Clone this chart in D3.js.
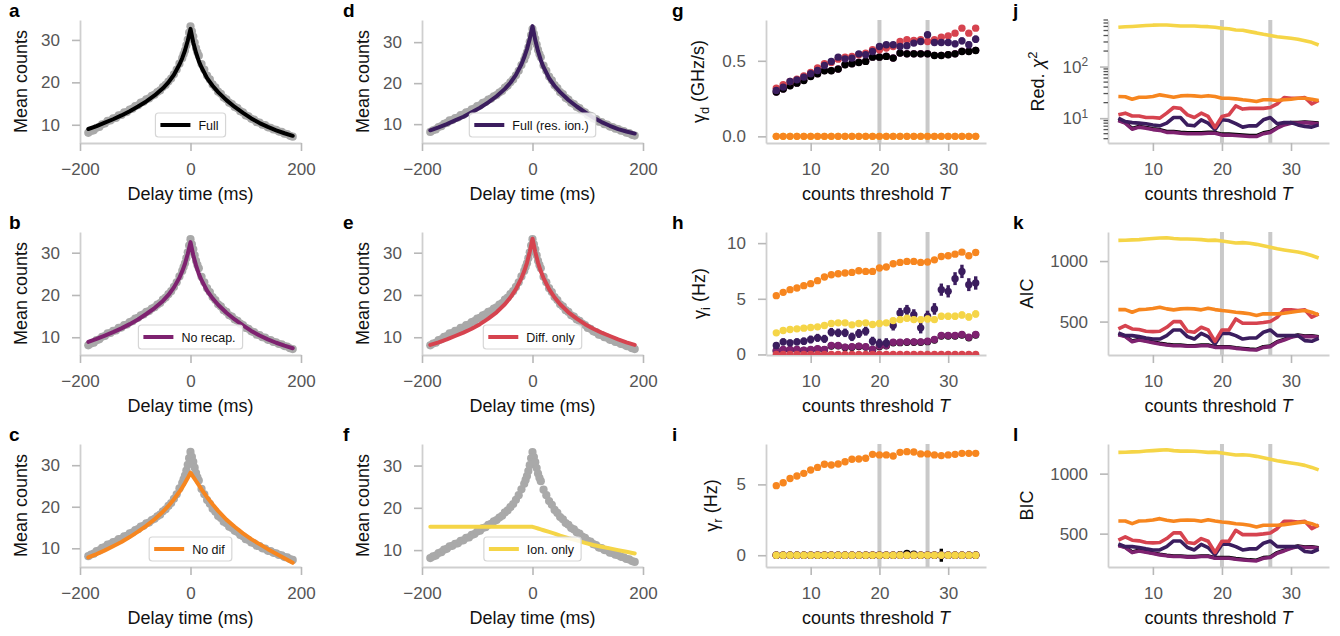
<!DOCTYPE html>
<html>
<head>
<meta charset="utf-8">
<script src="https://cdn.jsdelivr.net/npm/d3@7"></script>
<style>
  body { margin: 0; background: #fff; }
  svg { font-family: "Liberation Sans", Arial, Helvetica, sans-serif; }
</style>
</head>
<body>
<svg id="fig" width="1340" height="636"></svg>
<script>
// ---- data: correlation curves (panels a-f) ----
const delayMs = [-185,-180,-175,-170,-165,-160,-155,-150,-145,-140,-135,-130,-125,-120,-115,-110,-105,-100,-95,-90,-85,-80,-75,-70,-65,-60,-55,-50,-45,-40,-35,-30,-25,-20,-15,
  -12.5,-10,-7.5,-5,-2.5,0,2.5,5,7.5,10,12.5,15,
  20,25,30,35,40,45,50,55,60,65,70,75,80,85,90,95,100,105,110,115,120,125,130,135,140,145,150,155,160,165,170,175,180,185];
const meanCounts = [8.1,8.5,8.7,9.3,9.5,10.1,10.3,10.9,11.0,11.5,11.6,12.2,12.3,12.9,13.0,13.6,13.8,14.4,14.6,15.2,15.4,16.0,16.2,16.8,17.1,17.7,18.1,18.9,19.4,20.2,20.9,21.9,23.0,24.4,25.7,
  26.6,27.5,28.7,30.1,31.7,33.2,32.0,30.8,29.4,28.1,27.1,26.3,
  24.3,23.0,21.6,20.7,19.5,18.8,17.8,17.3,16.4,16.0,15.2,14.9,14.2,13.9,13.2,12.9,12.2,12.0,11.4,11.2,10.6,10.5,10.0,9.9,9.4,9.3,8.9,8.8,8.4,8.3,7.9,7.8,7.4,7.2];

const fitX = [-185,-170,-155,-140,-125,-110,-95,-80,-65,-50,-40,-30,-20,-15,-10,-5,0,5,10,15,20,30,40,50,65,80,95,110,125,140,155,170,185];
const fitFull = [9.0,9.7,10.5,11.3,12.2,13.2,14.3,15.5,16.9,18.6,20.0,21.8,24.2,25.7,27.5,29.8,32.6,29.4,27.0,25.0,23.5,21.0,19.2,17.7,15.8,14.2,12.8,11.5,10.4,9.5,8.7,8.0,7.4];
const fitNoRecap = [8.9,9.6,10.4,11.2,12.1,13.1,14.2,15.5,16.9,18.6,20.0,21.8,24.1,25.6,27.4,29.7,32.5,29.4,27.0,25.0,23.5,21.0,19.2,17.7,15.8,14.2,12.8,11.5,10.4,9.5,8.7,8.0,7.4];
const fitNoDif = [7.8,8.6,9.5,10.5,11.5,12.7,14.0,15.4,17.0,18.8,20.2,21.8,23.6,24.6,25.7,26.9,28.2,27.2,26.2,25.2,24.2,22.3,20.6,19.0,16.9,15.2,13.6,12.2,11.0,9.8,8.7,7.6,6.5];
const fitResIon = [8.5,9.2,10.0,10.9,11.8,12.9,14.0,15.3,16.8,18.6,20.1,22.0,24.6,26.3,28.3,30.8,33.9,30.5,27.8,25.6,23.9,21.2,19.3,17.8,15.9,14.3,12.9,11.6,10.5,9.6,8.8,8.2,7.7];
const fitDiffOnly = [8.2,8.8,9.5,10.3,11.1,12.0,13.1,14.4,15.9,17.8,19.4,21.4,24.0,25.6,27.6,30.2,33.3,30.2,27.6,25.6,24.0,21.4,19.4,17.8,15.9,14.4,13.1,12.0,11.1,10.3,9.5,8.8,8.2];
const fitIonOnly = [15.5,15.5,15.5,15.5,15.5,15.5,15.5,15.5,15.5,15.5,15.5,15.5,15.5,15.5,15.5,15.5,15.5,15.3,15.1,14.9,14.7,14.3,13.9,13.4,12.8,12.3,11.7,11.2,10.8,10.4,10.0,9.6,9.2];

// ---- data: threshold scans (panels g-l) ----
const thresholdT = [5,6,7,8,9,10,11,12,13,14,15,16,17,18,19,20,21,22,23,24,25,26,27,28,29,30,31,32,33,34];
const markedT = [20, 27];
const zeros = [0,0,0,0,0,0,0,0,0,0,0,0,0,0,0,0,0,0,0,0,0,0,0,0,0,0,0,0,0,0];

const gdFull = [0.293,0.313,0.335,0.352,0.370,0.396,0.414,0.434,0.434,0.445,0.474,0.480,0.489,0.496,0.524,0.524,0.529,0.518,0.551,0.546,0.546,0.546,0.546,0.535,0.535,0.540,0.546,0.562,0.562,0.568];
const gdFullErr = [0.005,0.005,0.005,0.005,0.005,0.006,0.006,0.006,0.006,0.007,0.007,0.007,0.008,0.008,0.008,0.009,0.009,0.009,0.010,0.010,0.010,0.011,0.011,0.012,0.012,0.013,0.014,0.015,0.015,0.016];
const gdResIon = [0.304,0.326,0.363,0.374,0.392,0.414,0.436,0.469,0.496,0.524,0.513,0.518,0.546,0.540,0.562,0.595,0.606,0.606,0.595,0.600,0.617,0.628,0.672,0.621,0.621,0.621,0.612,0.632,0.606,0.643];
const gdResIonErr = [0.008,0.008,0.009,0.009,0.010,0.010,0.011,0.011,0.012,0.012,0.013,0.013,0.014,0.014,0.015,0.016,0.016,0.017,0.017,0.018,0.018,0.019,0.020,0.020,0.021,0.021,0.022,0.023,0.023,0.024];
const gdNoRecap = [0.294,0.314,0.336,0.353,0.371,0.397,0.415,0.435,0.435,0.446,0.475,0.481,0.490,0.497,0.525,0.525,0.530,0.519,0.552,0.547,0.547,0.547,0.547,0.536,0.536,0.541,0.547,0.563,0.563,0.569];
const gdDiffOnly = [0.319,0.341,0.363,0.379,0.400,0.423,0.452,0.480,0.489,0.511,0.524,0.529,0.540,0.551,0.573,0.573,0.584,0.595,0.628,0.639,0.634,0.639,0.628,0.639,0.656,0.665,0.683,0.716,0.683,0.716];

const giFull = [0.32,0.40,0.41,0.42,0.36,0.41,0.47,0.42,0.76,0.77,0.62,0.65,0.71,0.66,0.42,0.71,0.77,1.05,1.06,1.10,1.10,1.10,1.15,1.30,1.66,1.66,1.66,1.75,1.50,1.75];
const giNoRecap = [0.36,0.45,0.45,0.45,0.39,0.45,0.51,0.45,0.81,0.81,0.66,0.69,0.75,0.69,0.45,0.75,0.81,1.10,1.10,1.13,1.13,1.13,1.19,1.34,1.70,1.70,1.70,1.79,1.55,1.79];
const giResIon = [0.81,1.13,1.04,1.13,1.19,1.34,1.49,1.40,2.00,1.94,1.94,1.58,1.88,2.09,1.19,0.99,1.04,2.60,3.73,3.97,3.58,2.39,3.43,4.09,5.82,5.67,6.81,7.46,6.27,6.42];
const giResIonErr = [0.30,0.32,0.30,0.32,0.33,0.35,0.36,0.36,0.38,0.38,0.38,0.38,0.40,0.40,0.40,0.42,0.42,0.45,0.45,0.48,0.48,0.50,0.50,0.52,0.55,0.55,0.58,0.60,0.58,0.60];
const giNoDif = [5.28,5.58,5.82,5.97,6.18,6.36,6.63,6.96,7.16,7.25,7.31,7.37,7.52,7.46,7.46,7.76,7.85,8.15,8.27,8.36,8.36,8.27,8.30,8.50,8.80,8.87,9.01,9.19,8.87,9.16];
const giIonOnly = [1.94,2.15,2.24,2.30,2.36,2.42,2.48,2.60,2.78,2.84,2.84,2.66,2.78,2.84,2.69,2.78,2.84,3.04,3.13,3.25,3.13,3.13,3.19,3.13,3.43,3.43,3.43,3.55,3.37,3.64];
const giIonOnlyErr = [0.20,0.20,0.21,0.21,0.22,0.22,0.22,0.23,0.23,0.24,0.24,0.24,0.25,0.25,0.25,0.26,0.26,0.27,0.27,0.28,0.28,0.28,0.29,0.29,0.30,0.30,0.31,0.31,0.32,0.32];

const grFull = [0,0,0,0,0,0,0,0,0,0,0,0,0,0,0,0,0,0,0.03,0.12,0.08,0,0,0,0,0,0,0,0,0];
const grFullErr = [0.02,0.02,0.02,0.02,0.02,0.02,0.02,0.02,0.02,0.02,0.02,0.02,0.02,0.02,0.02,0.02,0.02,0.02,0.04,0.10,0.07,0.02,0.02,0.03,0.46,0.03,0.03,0.03,0.03,0.26];
const grNoDif = [4.91,5.12,5.42,5.59,5.78,6.01,6.20,6.42,6.37,6.44,6.60,6.77,6.79,6.84,7.12,7.08,7.08,7.00,7.26,7.31,7.29,7.15,7.15,7.08,7.03,7.08,7.12,7.19,7.19,7.19];

const chiFull = [9.2,8.2,6.3,6.9,6.6,6.2,6.0,5.5,5.5,5.3,5.2,5.2,5.2,5.3,5.3,4.9,4.9,4.8,4.7,4.6,4.6,5.2,5.5,6.6,7.6,8.2,8.2,8.4,8.2,8.0];
const chiResIon = [10.0,8.6,8.2,8.0,7.8,7.4,7.1,8.0,10.3,10.3,7.4,7.1,9.3,8.0,6.0,9.3,9.0,7.8,6.7,7.1,7.1,9.3,10.3,7.8,8.2,8.2,7.4,6.9,6.7,7.4];
const chiNoRecap = [9.0,8.0,6.1,6.7,6.4,6.0,5.8,5.3,5.3,5.1,5.0,5.0,5.0,5.1,5.1,4.7,4.7,4.6,4.5,4.4,4.4,5.0,5.3,6.4,7.4,8.0,8.0,8.2,8.0,7.8];
const chiDiffOnly = [11.6,12.5,11.0,11.0,10.3,10.3,10.0,12.5,16.1,15.5,11.6,10.3,12.5,10.8,6.6,10.8,11.6,17.3,15.0,15.5,15.5,15.5,16.1,18.9,25.1,24.4,24.4,25.1,18.9,22.0];
const chiNoDif = [26.3,26.0,23.3,25.5,25.5,26.3,28.3,27.0,25.5,27.0,27.6,27.0,26.3,27.3,26.3,24.4,24.4,23.7,22.7,22.0,21.0,22.7,22.7,22.0,22.7,23.3,24.4,24.4,23.3,22.0];
const chiIonOnly = [577,590,600,612,625,635,640,640,625,612,612,612,600,594,580,552,540,513,505,476,450,422,400,380,365,353,340,318,295,262];

const aicFull = [396,381,339,353,342,331,320,312,306,306,301,301,306,306,292,292,292,284,278,273,270,292,298,334,353,375,389,381,383,375];
const aicResIon = [406,384,384,376,365,356,356,384,431,431,376,356,403,376,315,403,403,384,356,365,365,412,431,384,384,384,384,343,337,362];
const aicNoRecap = [392,376,334,348,337,326,315,307,301,301,296,296,301,301,287,287,287,279,273,268,265,287,293,329,348,370,384,376,378,370];
const aicDiffOnly = [439,467,439,434,420,417,420,453,500,500,420,412,453,431,337,431,431,522,486,486,486,492,500,536,597,597,591,597,536,564];
const aicNoDif = [599,599,577,599,602,608,619,605,597,605,608,605,597,610,599,591,586,577,572,564,550,564,564,564,569,577,586,591,577,555];
const aicIonOnly = [1171,1172,1175,1177,1182,1186,1190,1193,1186,1182,1182,1180,1177,1171,1173,1166,1158,1149,1152,1147,1138,1126,1114,1102,1092,1083,1074,1063,1046,1025];

const bicFull = [404,389,347,361,350,339,328,320,314,314,309,309,314,314,300,300,300,292,286,281,278,300,306,342,361,383,397,389,391,383];
const bicResIon = [414,392,392,384,373,364,364,392,439,439,384,364,411,384,323,411,411,392,364,373,373,420,439,392,392,392,392,351,345,370];
const bicNoRecap = [400,384,342,356,345,334,323,315,309,309,304,304,309,309,295,295,295,287,281,276,273,295,301,337,356,378,392,384,386,378];
const bicDiffOnly = [445,473,445,440,426,423,426,459,506,506,426,418,459,437,343,437,437,528,492,492,492,498,506,542,603,603,597,603,542,570];
const bicNoDif = [605,605,583,605,608,614,625,611,603,611,614,611,603,616,605,597,592,583,578,570,556,570,570,570,575,583,592,597,583,561];
const bicIonOnly = [1177,1178,1181,1183,1188,1192,1196,1199,1192,1188,1188,1186,1183,1177,1179,1172,1164,1155,1158,1153,1144,1132,1120,1108,1098,1089,1080,1069,1052,1031];

const modelNames = ["Full", "Full (res. ion.)", "No recap.", "Diff. only", "No dif", "Ion. only"];
const modelColors = ["#000000", "#3b1d5e", "#7e2270", "#d6434f", "#f7861f", "#f5d547"];
const dataGray = "#a9a9a9";

// layout
const cols = [[80, 301], [422, 643], [766, 986], [1108, 1329]];
const rows = [[20, 143], [232, 355], [444, 567]];
const panelLabelX = [9, 343, 672, 1013];

const svg = d3.select("#fig");

// draw the frame (spines, ticks, labels) for one panel and return scales
function makePanel(p) {
    const [x0, x1] = cols[p.col];
    const [y0, y1] = rows[p.row];
    const x = d3.scaleLinear().domain(p.xDom).range([x0, x1]);
    const y = (p.log ? d3.scaleLog() : d3.scaleLinear()).domain(p.yDom).range([y1, y0]);
    const g = svg.append("g");

    // clip to axes area like matplotlib
    const clipId = "clip-" + p.label;
    svg.append("clipPath").attr("id", clipId)
        .append("rect").attr("x", x0).attr("y", y0).attr("width", x1 - x0).attr("height", y1 - y0);

    // x axis
    const xa = g.append("g")
        .attr("transform", `translate(0, ${y1})`)
        .call(d3.axisBottom(x).tickValues(p.xTicks).tickFormat(d3.format("d"))
            .tickSize(8).tickSizeOuter(0).tickPadding(12));
    styleAxis(xa);

    // y axis
    const ya = g.append("g")
        .attr("transform", `translate(${x0}, 0)`)
        .call(d3.axisLeft(y).tickValues(p.yTicks).tickFormat(p.log ? () => "" : d3.format(p.yFmt))
            .tickSize(8).tickSizeOuter(0).tickPadding(12));
    styleAxis(ya);

    if (p.log) {
        // 10^n labels
        ya.selectAll(".tick text").each(function(d) {
            const t = d3.select(this);
            t.text("10");
            t.append("tspan").attr("dy", "-0.55em").attr("font-size", "0.7em").text(Math.round(Math.log10(d)));
        });
        // minor ticks
        ya.selectAll(".minor").data(p.minorTicks).join("line")
            .attr("class", "minor")
            .attr("x1", -4.5).attr("x2", 0)
            .attr("y1", d => y(d)).attr("y2", d => y(d))
            .attr("stroke", "#555").attr("stroke-width", 1.3);
    }

    // x label
    const xl = g.append("text")
        .attr("x", (x0 + x1) / 2).attr("y", y1 + 57)
        .attr("text-anchor", "middle").attr("font-size", 18).attr("fill", "#111");
    if (p.col < 2) {
        xl.text("Delay time (ms)");
    } else {
        xl.text("counts threshold ");
        xl.append("tspan").attr("font-style", "italic").text("T");
    }

    // y label
    const yl = g.append("text")
        .attr("transform", `translate(${p.yLabelX}, ${(y0 + y1) / 2}) rotate(-90)`)
        .attr("text-anchor", "middle").attr("font-size", 18).attr("fill", "#111");
    p.yLabel.forEach(seg => {
        const ts = yl.append("tspan").text(seg.t);
        if (seg.sub) ts.attr("dy", "0.3em").attr("font-size", "0.72em");
        if (seg.sup) ts.attr("dy", "-0.55em").attr("font-size", "0.72em");
        if (seg.back) ts.attr("dy", seg.back);
        if (seg.it) ts.attr("font-style", "italic");
    });

    // panel letter
    svg.append("text")
        .attr("x", panelLabelX[p.col]).attr("y", y0 - 3)
        .attr("font-size", 19).attr("font-weight", "bold").attr("fill", "#000")
        .text(p.label);

    const plot = svg.append("g").attr("clip-path", `url(#${clipId})`);
    return { x, y, plot, g, x0, x1, y0, y1 };
}

function styleAxis(sel) {
    sel.attr("font-size", 17).attr("font-family", null);
    sel.select(".domain").attr("stroke", "#cfcfcf").attr("stroke-width", 1.8);
    sel.selectAll(".tick line").attr("stroke", "#b8b8b8").attr("stroke-width", 1.6);
    sel.selectAll(".tick text").attr("fill", "#555");
}

// ---- panels a-f ----
const fitPanels = [
    { label: "a", col: 0, row: 0, fit: fitFull, model: 0, yDom: [5.7, 34.7] },
    { label: "b", col: 0, row: 1, fit: fitNoRecap, model: 2, yDom: [5.8, 34.9] },
    { label: "c", col: 0, row: 2, fit: fitNoDif, model: 4, yDom: [5.5, 35.1] },
    { label: "d", col: 1, row: 0, fit: fitResIon, model: 1, yDom: [5.4, 35.4] },
    { label: "e", col: 1, row: 1, fit: fitDiffOnly, model: 3, yDom: [5.8, 34.9] },
    { label: "f", col: 1, row: 2, fit: fitIonOnly, model: 5, yDom: [6.0, 35.1] }
];

fitPanels.forEach(fp => {
    const p = Object.assign({}, fp, {
        xDom: [-200, 200], xTicks: [-200, 0, 200], yTicks: [10, 20, 30], yFmt: "d",
        yLabelX: cols[fp.col][0] - 53, yLabel: [{ t: "Mean counts" }]
    });
    const { x, y, g, y1 } = makePanel(p);
    const plot = g; // matplotlib does not clip these visibly

    plot.append("g").selectAll("circle")
        .data(delayMs.map((d, i) => [d, meanCounts[i]]))
        .join("circle")
        .attr("cx", d => x(d[0])).attr("cy", d => y(d[1]))
        .attr("r", 4.1).attr("fill", dataGray);

    plot.append("path")
        .datum(fitX.map((d, i) => [d, fp.fit[i]]))
        .attr("d", d3.line().x(d => x(d[0])).y(d => y(d[1])))
        .attr("fill", "none").attr("stroke", modelColors[fp.model])
        .attr("stroke-width", 4).attr("stroke-linejoin", "round").attr("stroke-linecap", "round");

    // legend, lower centre
    const lg = plot.append("g");
    const rect = lg.append("rect");
    const txt = lg.append("text").attr("font-size", 12.5).attr("fill", "#111").text(modelNames[fp.model]);
    const tw = txt.node().getComputedTextLength();
    const w = 5 + 30 + 8 + tw + 7, h = 24;
    const left = x(0) - w / 2, top = y1 - 6 - h;
    rect.attr("x", left).attr("y", top).attr("width", w).attr("height", h)
        .attr("rx", 3).attr("fill", "rgba(255,255,255,0.85)").attr("stroke", "#d6d6d6").attr("stroke-width", 1.2);
    lg.append("line")
        .attr("x1", left + 5).attr("x2", left + 35).attr("y1", top + h / 2).attr("y2", top + h / 2)
        .attr("stroke", modelColors[fp.model]).attr("stroke-width", 4);
    txt.attr("x", left + 43).attr("y", top + h / 2 + 4.5);
});

// ---- panels g-i (rates, scatter with error bars) ----
const ratePanels = [
    { label: "g", col: 2, row: 0, yDom: [-0.044, 0.77], yTicks: [0, 0.5], yFmt: ".1f", yLabelX: 705,
      yLabel: [{ t: "γ" }, { t: "d", sub: true }, { t: " (GHz/s)", back: "-0.3em" }],
      series: [[2, gdNoRecap, null], [0, gdFull, gdFullErr], [3, gdDiffOnly, null], [1, gdResIon, gdResIonErr], [5, zeros, null], [4, zeros, null]] },
    { label: "h", col: 2, row: 1, yDom: [-0.05, 11.0], yTicks: [0, 5, 10], yFmt: "d", yLabelX: 706,
      yLabel: [{ t: "γ" }, { t: "i", sub: true }, { t: " (Hz)", back: "-0.3em" }],
      series: [[0, giFull, null], [2, giNoRecap, null], [3, zeros, null], [1, giResIon, giResIonErr], [5, giIonOnly, giIonOnlyErr], [4, giNoDif, null]] },
    { label: "i", col: 2, row: 2, yDom: [-0.83, 7.85], yTicks: [0, 5], yFmt: "d", yLabelX: 718,
      yLabel: [{ t: "γ" }, { t: "r", sub: true }, { t: " (Hz)", back: "-0.3em" }],
      series: [[2, zeros, null], [0, grFull, grFullErr], [3, zeros, null], [1, zeros, null], [5, zeros, null], [4, grNoDif, null]] }
];

ratePanels.forEach(rp => {
    const p = Object.assign({}, rp, { xDom: [3.5, 35.5], xTicks: [10, 20, 30] });
    const { x, y, plot, y0, y1 } = makePanel(p);

    plot.selectAll(".vline").data(markedT).join("line")
        .attr("x1", d => x(d)).attr("x2", d => x(d)).attr("y1", y0).attr("y2", y1)
        .attr("stroke", "#c9c9c9").attr("stroke-width", 4);

    rp.series.forEach(([m, vals, errs]) => {
        const sg = plot.append("g");
        if (errs) {
            sg.selectAll("line").data(thresholdT).join("line")
                .attr("x1", (d) => x(d)).attr("x2", (d) => x(d))
                .attr("y1", (d, i) => y(vals[i] - errs[i])).attr("y2", (d, i) => y(vals[i] + errs[i]))
                .attr("stroke", modelColors[m]).attr("stroke-width", 3.4);
        }
        sg.selectAll("circle").data(thresholdT).join("circle")
            .attr("cx", d => x(d)).attr("cy", (d, i) => y(vals[i]))
            .attr("r", 3.7).attr("fill", modelColors[m]);
    });
});

// ---- panels j-l (fit quality lines) ----
const qualityPanels = [
    { label: "j", col: 3, row: 0, log: true, yDom: [3.3, 800], yTicks: [10, 100], yLabelX: 1044,
      minorTicks: [4, 5, 6, 7, 8, 9, 20, 30, 40, 50, 60, 70, 80, 90, 200, 300, 400, 500, 600, 700, 800],
      yLabel: [{ t: "Red. " }, { t: "χ", it: true }, { t: "2", sup: true }],
      series: [[0, chiFull], [2, chiNoRecap], [1, chiResIon], [3, chiDiffOnly], [4, chiNoDif], [5, chiIonOnly]] },
    { label: "k", col: 3, row: 1, yDom: [224, 1240], yTicks: [500, 1000], yFmt: "d", yLabelX: 1033,
      yLabel: [{ t: "AIC" }],
      series: [[0, aicFull], [2, aicNoRecap], [1, aicResIon], [3, aicDiffOnly], [4, aicNoDif], [5, aicIonOnly]] },
    { label: "l", col: 3, row: 2, yDom: [222, 1247], yTicks: [500, 1000], yFmt: "d", yLabelX: 1033,
      yLabel: [{ t: "BIC" }],
      series: [[0, bicFull], [2, bicNoRecap], [1, bicResIon], [3, bicDiffOnly], [4, bicNoDif], [5, bicIonOnly]] }
];

qualityPanels.forEach(qp => {
    const p = Object.assign({}, qp, { xDom: [3.5, 35.5], xTicks: [10, 20, 30] });
    const { x, y, plot, y0, y1 } = makePanel(p);

    plot.selectAll(".vline").data(markedT).join("line")
        .attr("x1", d => x(d)).attr("x2", d => x(d)).attr("y1", y0).attr("y2", y1)
        .attr("stroke", "#c9c9c9").attr("stroke-width", 4);

    const line = d3.line().x((d, i) => x(thresholdT[i])).y(d => y(d));
    qp.series.forEach(([m, vals]) => {
        plot.append("path").datum(vals)
            .attr("d", line)
            .attr("fill", "none").attr("stroke", modelColors[m])
            .attr("stroke-width", 3.6).attr("stroke-linejoin", "round");
    });
});
</script>
</body>
</html>
